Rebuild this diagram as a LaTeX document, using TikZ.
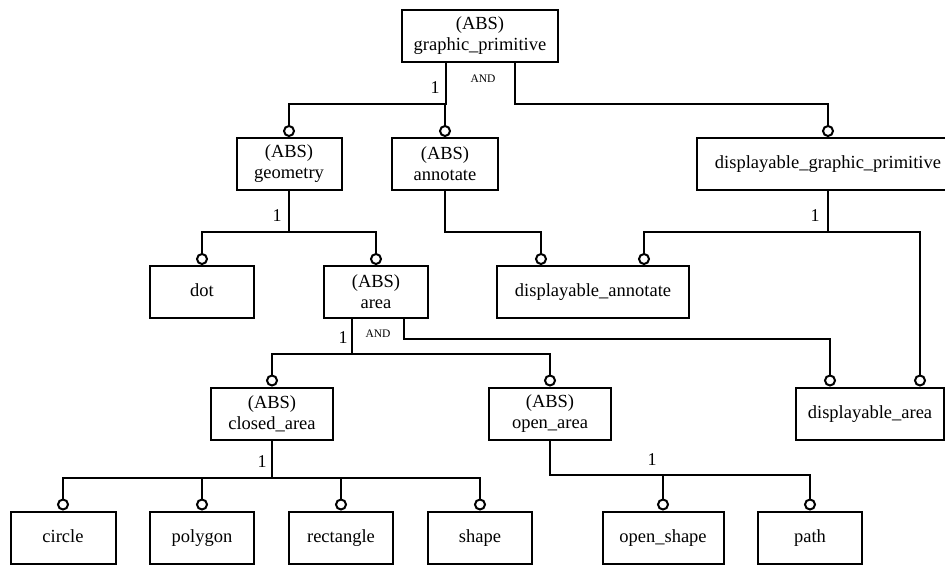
\documentclass[tikz,border=0pt]{standalone}
\usepackage{fontspec}
\setmainfont{Liberation Serif}
\usetikzlibrary{arrows.meta,positioning}
\tikzset{
  ent/.style={draw=black, line width=2pt, minimum width=#1, minimum height=52pt,
              inner sep=2pt, align=center, font=\fontsize{18.5}{21}\selectfont},
  ent/.default=104pt,
  one/.style={text height=13pt, text depth=4pt},
  link/.style={-{Circle[open, length=12pt]}, line width=2pt, draw=black},
  card/.style={font=\fontsize{18}{20}\selectfont, inner sep=0pt},
  andlbl/.style={font=\fontsize{11.5}{12}\selectfont, inner sep=0pt},
}
\begin{document}
\begin{tikzpicture}[x=1pt, y=-1pt]
  \useasboundingbox (0,0) rectangle (945,565);

  \node[ent=156pt] (gp) at (480,36) {(ABS)\\graphic\_primitive};
  \node[ent=105pt] (geo) at (289,164) {(ABS)\\geometry};
  \node[ent=106pt] (ann) at (445,164) {(ABS)\\annotate};
  \node[ent=262pt, one] (dgp) at (828,164) {displayable\_graphic\_primitive};
  \node[ent, one] (dot) at (202,292) {dot};
  \node[ent] (area) at (376,292) {(ABS)\\area};
  \node[ent=192pt, one] (dann) at (593,292) {displayable\_annotate};
  \node[ent=122pt] (clos) at (272,413.5) {(ABS)\\closed\_area};
  \node[ent=122pt] (open) at (550,413.5) {(ABS)\\open\_area};
  \node[ent=148pt, one] (darea) at (870,413.5) {displayable\_area};
  \node[ent=105pt, one] (circ) at (63,537.5) {circle};
  \node[ent, one] (poly) at (202,537.5) {polygon};
  \node[ent, one] (rect) at (341,537.5) {rectangle};
  \node[ent, one] (shp) at (480,537.5) {shape};
  \node[ent=121pt, one] (oshp) at (663,537.5) {open\_shape};
  \node[ent, one] (path) at (810,537.5) {path};

  % supertype -> subtype links
  \draw[link] ([xshift=-34pt]gp.south) -- ++(0,41) -| (geo.north);
  \draw[link] ([xshift=-34pt]gp.south) -- ++(0,41) -| (ann.north);
  \draw[link] ([xshift=35pt]gp.south) -- ++(0,41) -| (dgp.north);
  \draw[link] (geo.south) -- ++(0,41) -| (dot.north);
  \draw[link] (geo.south) -- ++(0,41) -| (area.north);
  \draw[link] (ann.south) -- ++(0,41) -| ([xshift=-52pt]dann.north);
  \draw[link] (dgp.south) -- ++(0,41) -| ([xshift=51pt]dann.north);
  \draw[link] (dgp.south) -- ++(0,41) -| ([xshift=50pt]darea.north);
  \draw[link] ([xshift=-24pt]area.south) -- ++(0,34.5) -| (clos.north);
  \draw[link] ([xshift=-24pt]area.south) -- ++(0,34.5) -| (open.north);
  \draw[link] ([xshift=28pt]area.south) -- ++(0,20) -| ([xshift=-40pt]darea.north);
  \draw[link] (clos.south) -- ++(0,37) -| (circ.north);
  \draw[link] (clos.south) -- ++(0,37) -| (poly.north);
  \draw[link] (clos.south) -- ++(0,37) -| (rect.north);
  \draw[link] (clos.south) -- ++(0,37) -| (shp.north);
  \draw[link] (open.south) -- ++(0,34) -| (oshp.north);
  \draw[link] (open.south) -- ++(0,34) -| (path.north);

  % cardinalities and AND marks
  \node[card] (n1) at (435,88) {1};
  \node[andlbl] (a1) at (483,79) {AND};
  \node[card] (n2) at (277,216) {1};
  \node[card] (n3) at (815,216) {1};
  \node[card] (n4) at (343,338) {1};
  \node[andlbl] (a2) at (378,334) {AND};
  \node[card] (n5) at (262,462) {1};
  \node[card] (n6) at (652,460) {1};
\end{tikzpicture}
\end{document}
